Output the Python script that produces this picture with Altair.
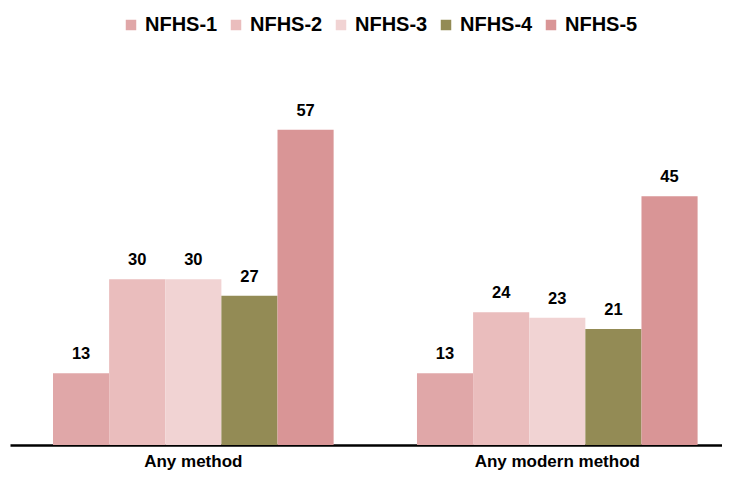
import altair as alt
import pandas as pd

categories = ["Any method", "Any modern method"]
series = ["NFHS-1", "NFHS-2", "NFHS-3", "NFHS-4", "NFHS-5"]
any_method = [13, 30, 30, 27, 57]
any_modern = [13, 24, 23, 21, 45]
colors = ["#E0A7A8", "#EABDBD", "#F1D3D3", "#938B55", "#D99596"]

rows = []
for s, a, m in zip(series, any_method, any_modern):
    rows.append({"category": categories[0], "survey": s, "value": a})
    rows.append({"category": categories[1], "survey": s, "value": m})
df = pd.DataFrame(rows)

FONT = "Liberation Sans"

x = alt.X(
    "category:N",
    sort=categories,
    title=None,
    scale=alt.Scale(paddingInner=0.229, paddingOuter=0.0926, align=0.638, round=False),
    axis=alt.Axis(
        labelAngle=0, labelFont=FONT, labelFontSize=17, labelFontWeight="bold",
        labelColor="#000000", labelPadding=8, ticks=False,
        domainColor="#000000", domainWidth=2.5,
    ),
)
xo = alt.XOffset("survey:N", sort=series,
                 scale=alt.Scale(paddingInner=0, paddingOuter=0))
y = alt.Y("value:Q", scale=alt.Scale(domain=[0, 70], nice=False), axis=None)

bars = alt.Chart(df).mark_bar().encode(
    x=x, xOffset=xo, y=y,
    color=alt.Color(
        "survey:N", sort=series,
        scale=alt.Scale(domain=series, range=colors),
        legend=alt.Legend(
            title=None, orient="none", direction="horizontal",
            legendX=111, legendY=-43,
            symbolType="square", symbolSize=110, symbolStrokeWidth=0,
            labelFont=FONT, labelFontSize=20, labelFontWeight="bold",
            labelColor="#000000", labelOffset=4, columnPadding=8,
        ),
    ),
)

labels = alt.Chart(df).mark_text(
    dy=-19, font=FONT, fontSize=16.5, fontWeight="bold", color="#000000"
).encode(x=x, xOffset=xo, y=y, text="value:Q")

chart = alt.layer(bars, labels).properties(
    width=712, height=387,
    padding={"left": 2, "top": 50, "right": 0, "bottom": 27},
    autosize=alt.AutoSizeParams(type="none"),
).configure_view(stroke=None)

chart.save("out.html", embed_options={"renderer": "svg", "actions": False})
